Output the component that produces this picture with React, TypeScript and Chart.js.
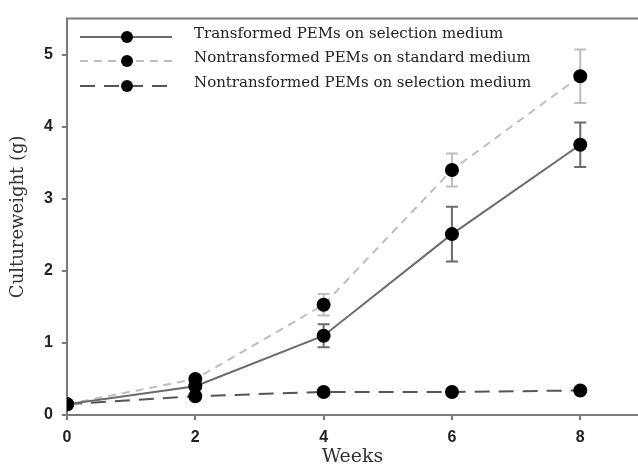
import React, { useEffect, useRef } from "react";
import { Chart, registerables } from "chart.js";

Chart.register(...registerables);

const weeks = [0, 2, 4, 6, 8];
const transformed = [0.15, 0.4, 1.1, 2.51, 3.75];
const transformedErr = [0, 0.03, 0.16, 0.38, 0.31];
const standard = [0.15, 0.5, 1.53, 3.4, 4.7];
const standardErr = [0, 0.03, 0.15, 0.23, 0.37];
const selection = [0.15, 0.26, 0.32, 0.32, 0.34];
const selectionErr = [0, 0, 0, 0, 0];
const seriesLabels = [
  "Transformed PEMs on selection medium",
  "Nontransformed PEMs on standard medium",
  "Nontransformed PEMs on selection medium",
];
const yTicks = [0, 1, 2, 3, 4, 5];
const xTicks = [0, 2, 4, 6, 8];

const AXIS = "#7a7a7a";
const SERIF = "'DejaVu Serif', serif";

const errorBarPlugin = {
  id: "errorBars",
  beforeDatasetsDraw(chart: any) {
    const ctx = chart.ctx;
    const xs = chart.scales.x;
    const ys = chart.scales.y;
    chart.data.datasets.forEach((ds: any) => {
      const errs: number[] = ds.errors || [];
      ctx.save();
      ctx.strokeStyle = ds.borderColor;
      ctx.lineWidth = 2;
      ctx.setLineDash([]);
      ds.data.forEach((p: any, i: number) => {
        const e = errs[i] || 0;
        if (!e) return;
        const x = xs.getPixelForValue(p.x);
        const y1 = ys.getPixelForValue(p.y + e);
        const y2 = ys.getPixelForValue(p.y - e);
        ctx.beginPath();
        ctx.moveTo(x, y1);
        ctx.lineTo(x, y2);
        ctx.moveTo(x - 6, y1);
        ctx.lineTo(x + 6, y1);
        ctx.moveTo(x - 6, y2);
        ctx.lineTo(x + 6, y2);
        ctx.stroke();
      });
      ctx.restore();
    });
  },
};

const framePlugin = {
  id: "frame",
  afterDraw(chart: any) {
    const ctx = chart.ctx;
    const a = chart.chartArea;
    ctx.save();
    ctx.strokeStyle = AXIS;
    ctx.lineWidth = 2;
    ctx.beginPath();
    ctx.moveTo(a.left - 1, a.top);
    ctx.lineTo(chart.width, a.top);
    ctx.stroke();
    // legend
    const lx0 = 80;
    const lx1 = 172;
    const tx = 194;
    const rows = [37, 61, 86];
    chart.data.datasets.forEach((ds: any, i: number) => {
      const y = rows[i];
      ctx.strokeStyle = ds.borderColor;
      ctx.lineWidth = ds.borderWidth;
      ctx.setLineDash(ds.borderDash || []);
      ctx.beginPath();
      ctx.moveTo(lx0, y);
      ctx.lineTo(lx1, y);
      ctx.stroke();
      ctx.setLineDash([]);
      ctx.fillStyle = "#000";
      ctx.beginPath();
      ctx.arc(127, y, 6, 0, Math.PI * 2);
      ctx.fill();
      ctx.fillStyle = "#222";
      ctx.font = "15px " + SERIF;
      ctx.textBaseline = "middle";
      ctx.fillText(ds.label, tx, y - 3);
    });
    ctx.restore();
  },
};

export default function App() {
  const ref = useRef<HTMLCanvasElement>(null);
  useEffect(() => {
    if (!ref.current) return;
    const mk = (ys: number[]) => weeks.map((w, i) => ({ x: w, y: ys[i] }));
    const chart = new Chart(ref.current, {
      type: "line",
      data: {
        datasets: [
          {
            label: seriesLabels[0],
            data: mk(transformed),
            errors: transformedErr,
            borderColor: "#6b6b6b",
            borderWidth: 2,
            pointRadius: 6,
            pointBackgroundColor: "#000",
            pointBorderColor: "#000",
          } as any,
          {
            label: seriesLabels[1],
            data: mk(standard),
            errors: standardErr,
            borderColor: "#bdbdbd",
            borderWidth: 2,
            borderDash: [8, 6],
            pointRadius: 6,
            pointBackgroundColor: "#000",
            pointBorderColor: "#000",
          } as any,
          {
            label: seriesLabels[2],
            data: mk(selection),
            errors: selectionErr,
            borderColor: "#555555",
            borderWidth: 2,
            borderDash: [15, 9],
            pointRadius: 6,
            pointBackgroundColor: "#000",
            pointBorderColor: "#000",
          } as any,
        ],
      },
      options: {
        animation: false,
        responsive: true,
        maintainAspectRatio: false,
        layout: { autoPadding: false, padding: { top: 12, left: 0, right: 0, bottom: 0 } },
        plugins: { legend: { display: false }, tooltip: { enabled: false } },
        scales: {
          x: {
            type: "linear",
            min: 0,
            max: 8.9,
            afterFit: (s: any) => {
              s.height = 54;
            },
            afterBuildTicks: (s: any) => {
              s.ticks = xTicks.map((v) => ({ value: v }));
            },
            ticks: {
              color: "#222",
              font: { family: "'Liberation Sans', Arial", size: 16, weight: "bold" },
              padding: 8,
            },
            grid: { drawOnChartArea: false, color: AXIS, tickLength: 5, lineWidth: 2 },
            border: { color: AXIS, width: 2 },
            title: {
              display: true,
              text: "Weeks",
              color: "#333",
              font: { family: SERIF, size: 19 },
              padding: { top: 0, bottom: 1 },
            },
          },
          y: {
            min: 0,
            max: 5.5,
            afterFit: (s: any) => {
              s.width = 67;
            },
            afterBuildTicks: (s: any) => {
              s.ticks = yTicks.map((v) => ({ value: v }));
            },
            ticks: {
              color: "#222",
              font: { family: "'Liberation Sans', Arial", size: 16, weight: "bold" },
              padding: 9,
            },
            grid: { drawOnChartArea: false, color: AXIS, tickLength: 5, lineWidth: 2 },
            border: { color: AXIS, width: 2 },
            title: {
              display: true,
              text: "Cultureweight (g)",
              color: "#333",
              font: { family: SERIF, size: 18 },
              padding: { top: 8, bottom: 0 },
            },
          },
        },
      },
      plugins: [errorBarPlugin, framePlugin],
    });
    return () => chart.destroy();
  }, []);
  return (
    <div style={{ position: "fixed", left: 0, top: 0, width: 638, height: 469, background: "#fff" }}>
      <canvas ref={ref} />
    </div>
  );
}
